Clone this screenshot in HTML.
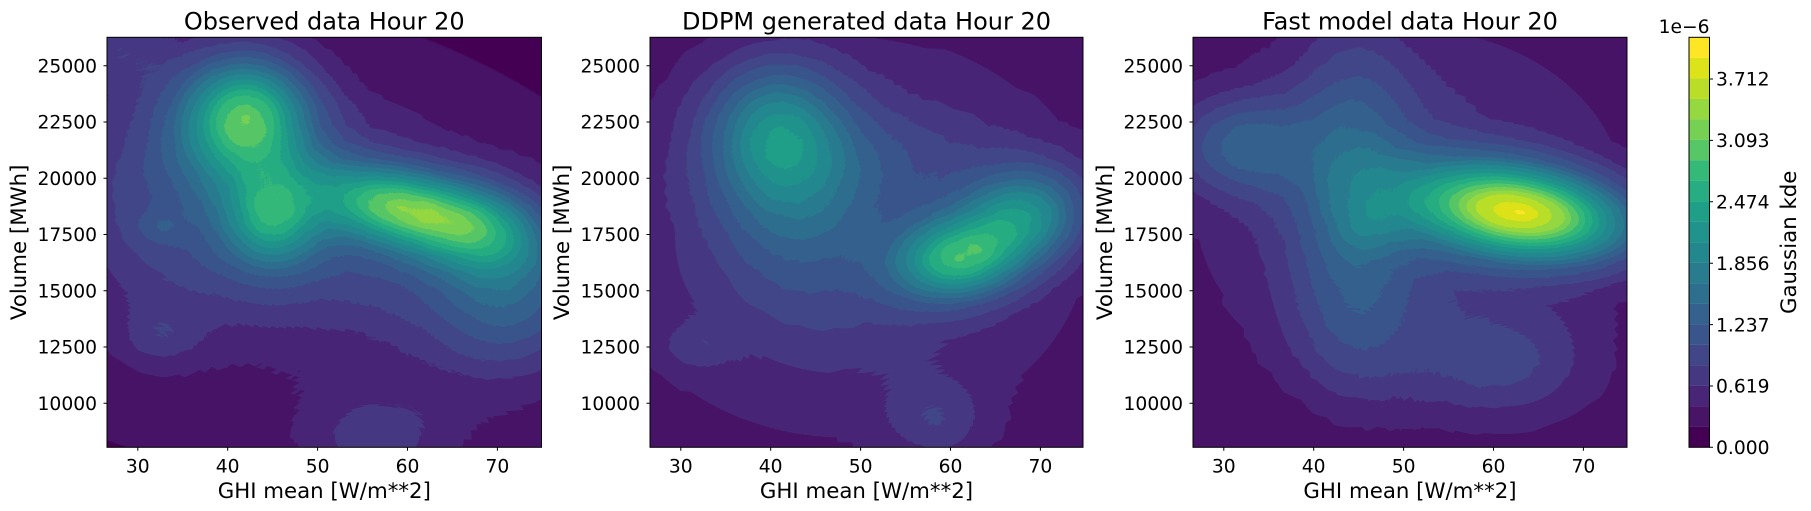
<!DOCTYPE html>
<html><head><meta charset="utf-8"><style>
html,body{margin:0;padding:0;background:#fff;width:1811px;height:511px;overflow:hidden;}
svg.root{position:absolute;left:0;top:0;display:block;font-family:"DejaVu Sans","Liberation Sans",sans-serif;}
.b{mix-blend-mode:plus-lighter;}
</style></head><body>
<svg class="root" width="1811" height="511" viewBox="0 0 1811 511" overflow="hidden" xmlns="http://www.w3.org/2000/svg">
<defs>
<radialGradient id="g">
<stop offset="0" stop-color="#fff" stop-opacity="1"/>
<stop offset="0.2" stop-color="#fff" stop-opacity="0.835"/>
<stop offset="0.4" stop-color="#fff" stop-opacity="0.487"/>
<stop offset="0.6" stop-color="#fff" stop-opacity="0.198"/>
<stop offset="0.8" stop-color="#fff" stop-opacity="0.056"/>
<stop offset="1" stop-color="#fff" stop-opacity="0"/>
</radialGradient>
<filter id="v" x="0" y="0" width="100%" height="100%" color-interpolation-filters="sRGB">
<feComponentTransfer>
<feFuncR type="discrete" tableValues=".267 .278 .282 .271 .251 .227 .204 .180 .157 .137 .125 .122 .149 .204 .341 .459 .584 .729 .867 .992"/>
<feFuncG type="discrete" tableValues=".004 .078 .145 .216 .275 .329 .380 .431 .486 .533 .576 .624 .678 .725 .776 .816 .847 .871 .890 .906"/>
<feFuncB type="discrete" tableValues=".329 .400 .463 .506 .537 .549 .553 .557 .557 .557 .549 .533 .506 .475 .400 .329 .251 .157 .098 .145"/>
</feComponentTransfer>
</filter>
</defs>

<!-- Panel 1 -->
<svg x="107" y="37.3" width="434.5" height="410" overflow="hidden">
<g filter="url(#v)">
<rect x="0" y="0" width="434.5" height="410" fill="#000"/>
<g transform="scale(1.149,1)" fill="url(#g)">
<rect class="b" x="0" y="0" width="400" height="410" fill="#fff" opacity="0.04"/>
<ellipse class="b" cx="200" cy="185" rx="400" ry="230" opacity="0.22" transform="rotate(25 200 185)"/>
<ellipse class="b" cx="60" cy="180" rx="230" ry="300" opacity="0.12"/>
<ellipse class="b" cx="121" cy="80" rx="110" ry="120" opacity="0.56"/>
<ellipse class="b" cx="255" cy="170" rx="150" ry="75" opacity="0.52" transform="rotate(15 255 170)"/>
<ellipse class="b" cx="325" cy="192" rx="110" ry="85" opacity="0.27" transform="rotate(20 325 192)"/>
<ellipse class="b" cx="144" cy="181" rx="80" ry="95" opacity="0.35"/>
<ellipse class="b" cx="350" cy="250" rx="140" ry="170" opacity="0.22"/>
<ellipse class="b" cx="45" cy="300" rx="70" ry="60" opacity="0.08"/>
<ellipse class="b" cx="45" cy="190" rx="40" ry="30" opacity="0.06"/>
<ellipse class="b" cx="235" cy="400" rx="150" ry="100" opacity="0.13"/>
<ellipse class="b" cx="10" cy="10" rx="90" ry="80" opacity="0.1"/>
</g>
</g>
</svg>
<rect x="107" y="37.3" width="434.5" height="410" fill="none" stroke="#000" stroke-width="1"/>

<!-- Panel 2 -->
<svg x="650" y="37.3" width="433" height="410" overflow="hidden">
<g filter="url(#v)">
<rect x="0" y="0" width="433" height="410" fill="#000"/>
<g transform="scale(1.149,1)" fill="url(#g)">
<rect class="b" x="0" y="0" width="400" height="410" fill="#fff" opacity="0.05"/>
<ellipse class="b" cx="170" cy="200" rx="380" ry="360" opacity="0.18"/>
<ellipse class="b" cx="110" cy="95" rx="120" ry="140" opacity="0.35"/>
<ellipse class="b" cx="268" cy="222" rx="110" ry="80" opacity="0.47" transform="rotate(-10 268 222)"/>
<ellipse class="b" cx="326" cy="178" rx="110" ry="95" opacity="0.38" transform="rotate(-20 326 178)"/>
<ellipse class="b" cx="130" cy="170" rx="140" ry="170" opacity="0.12"/>
<ellipse class="b" cx="40" cy="310" rx="60" ry="45" opacity="0.07"/>
<ellipse class="b" cx="250" cy="385" rx="90" ry="80" opacity="0.1"/>
<ellipse class="b" cx="230" cy="120" rx="200" ry="110" opacity="0.05"/>
</g>
</g>
</svg>
<rect x="650" y="37.3" width="433" height="410" fill="none" stroke="#000" stroke-width="1"/>

<!-- Panel 3 -->
<svg x="1193" y="37.3" width="434" height="410" overflow="hidden">
<g filter="url(#v)">
<rect x="0" y="0" width="434" height="410" fill="#000"/>
<g transform="scale(1.149,1)" fill="url(#g)">
<rect class="b" x="0" y="0" width="400" height="410" fill="#fff" opacity="0.04"/>
<ellipse class="b" cx="190" cy="170" rx="380" ry="360" opacity="0.17"/>
<ellipse class="b" cx="285" cy="175" rx="190" ry="90" opacity="0.8" transform="rotate(10 285 175)"/>
<ellipse class="b" cx="42" cy="108" rx="120" ry="100" opacity="0.22"/>
<ellipse class="b" cx="140" cy="140" rx="110" ry="300" opacity="0.2"/>
<ellipse class="b" cx="150" cy="190" rx="60" ry="60" opacity="0.06"/>
<ellipse class="b" cx="270" cy="330" rx="170" ry="120" opacity="0.12"/>
<ellipse class="b" cx="140" cy="300" rx="120" ry="140" opacity="0.07"/>
</g>
</g>
</svg>
<rect x="1193" y="37.3" width="434" height="410" fill="none" stroke="#000" stroke-width="1"/>

<g stroke="#000" stroke-width="1">
<path d="M137.8 447.3v3.5M227.7 447.3v3.5M317.6 447.3v3.5M407.5 447.3v3.5M497.4 447.3v3.5"/>
<path d="M680.8 447.3v3.5M770.7 447.3v3.5M860.6 447.3v3.5M950.5 447.3v3.5M1040.4 447.3v3.5"/>
<path d="M1223.8 447.3v3.5M1313.7 447.3v3.5M1403.6 447.3v3.5M1493.5 447.3v3.5M1583.4 447.3v3.5"/>
<path d="M107 65.7h-3.5M107 122h-3.5M107 178.2h-3.5M107 234.5h-3.5M107 290.8h-3.5M107 347h-3.5M107 403.3h-3.5"/>
<path d="M650 65.7h-3.5M650 122h-3.5M650 178.2h-3.5M650 234.5h-3.5M650 290.8h-3.5M650 347h-3.5M650 403.3h-3.5"/>
<path d="M1193 65.7h-3.5M1193 122h-3.5M1193 178.2h-3.5M1193 234.5h-3.5M1193 290.8h-3.5M1193 347h-3.5M1193 403.3h-3.5"/>
</g>

<g font-size="18.7" fill="#000" text-anchor="middle">
<text x="137.8" y="472.7">30</text><text x="227.7" y="472.7">40</text><text x="317.6" y="472.7">50</text><text x="407.5" y="472.7">60</text><text x="497.4" y="472.7">70</text>
<text x="680.8" y="472.7">30</text><text x="770.7" y="472.7">40</text><text x="860.6" y="472.7">50</text><text x="950.5" y="472.7">60</text><text x="1040.4" y="472.7">70</text>
<text x="1223.8" y="472.7">30</text><text x="1313.7" y="472.7">40</text><text x="1403.6" y="472.7">50</text><text x="1493.5" y="472.7">60</text><text x="1583.4" y="472.7">70</text>
</g>
<g font-size="18.7" fill="#000" text-anchor="end">
<text x="97" y="72.4">25000</text><text x="97" y="128.7">22500</text><text x="97" y="184.9">20000</text><text x="97" y="241.2">17500</text><text x="97" y="297.5">15000</text><text x="97" y="353.7">12500</text><text x="97" y="410">10000</text>
<text x="640" y="72.4">25000</text><text x="640" y="128.7">22500</text><text x="640" y="184.9">20000</text><text x="640" y="241.2">17500</text><text x="640" y="297.5">15000</text><text x="640" y="353.7">12500</text><text x="640" y="410">10000</text>
<text x="1183" y="72.4">25000</text><text x="1183" y="128.7">22500</text><text x="1183" y="184.9">20000</text><text x="1183" y="241.2">17500</text><text x="1183" y="297.5">15000</text><text x="1183" y="353.7">12500</text><text x="1183" y="410">10000</text>
</g>

<g font-size="21.3" fill="#000" text-anchor="middle">
<text x="324.3" y="498">GHI mean [W/m**2]</text>
<text x="866.5" y="498">GHI mean [W/m**2]</text>
<text x="1410" y="498">GHI mean [W/m**2]</text>
<text transform="translate(26,242.3) rotate(-90)">Volume [MWh]</text>
<text transform="translate(569,242.3) rotate(-90)">Volume [MWh]</text>
<text transform="translate(1112,242.3) rotate(-90)">Volume [MWh]</text>
</g>
<g font-size="24" fill="#000" text-anchor="middle">
<text x="324.3" y="29.3">Observed data Hour 20</text>
<text x="866.5" y="29.3">DDPM generated data Hour 20</text>
<text x="1410" y="29.3">Fast model data Hour 20</text>
</g>

<g>
<rect x="1689" y="426.8" width="20.5" height="20.5" fill="#440154"/>
<rect x="1689" y="406.3" width="20.5" height="20.6" fill="#471466"/>
<rect x="1689" y="385.8" width="20.5" height="20.6" fill="#482576"/>
<rect x="1689" y="365.3" width="20.5" height="20.6" fill="#453781"/>
<rect x="1689" y="344.8" width="20.5" height="20.6" fill="#404688"/>
<rect x="1689" y="324.3" width="20.5" height="20.6" fill="#3a548c"/>
<rect x="1689" y="303.8" width="20.5" height="20.6" fill="#34618d"/>
<rect x="1689" y="283.3" width="20.5" height="20.6" fill="#2e6e8e"/>
<rect x="1689" y="262.8" width="20.5" height="20.6" fill="#287c8e"/>
<rect x="1689" y="242.3" width="20.5" height="20.6" fill="#23888e"/>
<rect x="1689" y="221.8" width="20.5" height="20.6" fill="#20938c"/>
<rect x="1689" y="201.3" width="20.5" height="20.6" fill="#1f9f88"/>
<rect x="1689" y="180.8" width="20.5" height="20.6" fill="#26ad81"/>
<rect x="1689" y="160.3" width="20.5" height="20.6" fill="#34b979"/>
<rect x="1689" y="139.8" width="20.5" height="20.6" fill="#57c666"/>
<rect x="1689" y="119.3" width="20.5" height="20.6" fill="#75d054"/>
<rect x="1689" y="98.8" width="20.5" height="20.6" fill="#95d840"/>
<rect x="1689" y="78.3" width="20.5" height="20.6" fill="#bade28"/>
<rect x="1689" y="57.8" width="20.5" height="20.6" fill="#dde319"/>
<rect x="1689" y="37.3" width="20.5" height="20.6" fill="#fde725"/>
<rect x="1689" y="37.3" width="20.5" height="410" fill="none" stroke="#000" stroke-width="1"/>
</g>
<path stroke="#000" stroke-width="1" d="M1709.5 447.3h3.5M1709.5 386h3.5M1709.5 324.6h3.5M1709.5 263.2h3.5M1709.5 201.8h3.5M1709.5 140.4h3.5M1709.5 79h3.5"/>
<g font-size="18.7" fill="#000">
<text x="1716" y="454">0.000</text>
<text x="1716" y="392.7">0.619</text>
<text x="1716" y="331.3">1.237</text>
<text x="1716" y="269.9">1.856</text>
<text x="1716" y="208.5">2.474</text>
<text x="1716" y="147.1">3.093</text>
<text x="1716" y="85.7">3.712</text>
<text x="1709.5" y="33" text-anchor="end">1e−6</text>
</g>
<text font-size="21.3" fill="#000" text-anchor="middle" transform="translate(1796,242.3) rotate(-90)">Gaussian kde</text>
</svg>
</body></html>
